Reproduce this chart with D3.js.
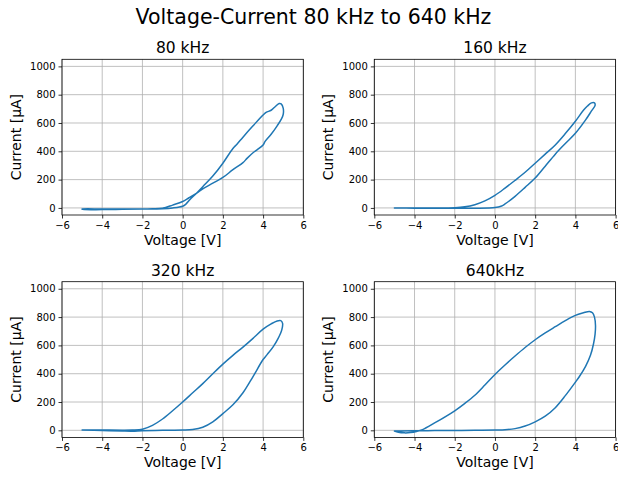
<!DOCTYPE html>
<html lang="en">
    <head>
        <meta charset="UTF-8">
        <title>Voltage-Current 80 kHz to 640 kHz</title>
        <style>
        body {
            margin: 0;
            background: #fff;
        }

        text {
            font-family: "DejaVu Sans", sans-serif;
            fill: #000;
        }

        .grid line {
            stroke: #b0b0b0;
            stroke-width: 0.8px;
        }

        .trace {
            fill: none;
            stroke: #1f77b4;
            stroke-width: 1.5px;
            stroke-linejoin: round;
        }
        </style>
    </head>
    <body>
        <svg></svg>
        <script src="https://d3js.org/d3.v7.min.js"></script>
        <script>
    // Measured V-I loops (voltage in V, current in µA), one closed sweep each
    const v80 = [-5, -4, -3, -2, -1, -0.5, 0, 0.15, 0.4, 0.7, 1, 1.5, 2, 2.5, 2.7, 3, 3.5, 4, 4.15, 4.4, 4.6, 4.8, 4.9, 5.0, 5.0, 4.9, 4.7, 4.4, 4.1, 4.0, 3.7, 3.5, 3.2, 3, 2.5, 2, 1.5, 1, 0.7, 0.3, 0, -0.5, -1, -1.5, -2, -3, -4, -5];
    const i80 = [-10, -12, -10, -8, -5, 0, 12, 25, 65, 105, 150, 225, 316, 420, 450, 500, 580, 656, 675, 690, 715, 738, 735, 705, 660, 625, 580, 520, 470, 445, 410, 390, 350, 320, 270, 215, 175, 135, 105, 70, 45, 20, -2, -6, -8, -8, -8, -8];

    const v160 = [-5, -4, -3, -2, -1, 0, 0.3, 0.5, 1, 1.5, 2, 2.5, 3, 3.5, 4, 4.5, 4.8, 4.98, 4.95, 4.8, 4.6, 4.4, 4, 3.5, 3, 2.5, 2, 1.5, 1, 0.5, 0, -0.5, -1, -1.5, -2, -3, -4, -5];
    const i160 = [0, -2, -3, -3, -2, 3, 12, 28, 82, 145, 211, 295, 380, 455, 527, 620, 685, 725, 742, 742, 720, 690, 612, 525, 445, 380, 316, 252, 195, 140, 89, 50, 23, 8, 2, 0, 0, 0];

    const v320 = [-5, -4, -3, -2.5, -2, -1.5, -1, -0.5, 0, 0.5, 1, 1.5, 2, 2.5, 3, 3.5, 4, 4.4, 4.7, 4.88, 4.97, 4.93, 4.75, 4.5, 4.2, 4, 3.5, 3, 2.5, 2, 1.5, 1, 0.5, 0, -1, -2, -2.5, -3, -4, -5];
    const i320 = [2, 2, 1, 2, 8, 35, 80, 138, 200, 265, 330, 400, 468, 530, 588, 650, 715, 752, 773, 775, 755, 710, 650, 590, 535, 500, 380, 265, 180, 118, 60, 22, 6, 2, 0, -3, -6, -5, -1, 2];

    const v640 = [-5, -4.8, -4.5, -4.2, -3.9, -3.6, -3, -2, -1.5, -1, -0.5, 0, 0.5, 1, 1.5, 2, 2.5, 3, 3.5, 4, 4.4, 4.7, 4.85, 4.95, 5.0, 4.98, 4.9, 4.75, 4.5, 4.2, 4, 3.5, 3, 2.5, 2, 1.5, 1, 0.5, 0, -1, -2, -3, -4, -4.7, -5];
    const i640 = [-5, -14, -18, -16, -8, 5, 52, 138, 190, 248, 320, 395, 462, 525, 585, 640, 688, 732, 775, 812, 830, 840, 830, 800, 740, 680, 610, 530, 450, 380, 340, 245, 160, 100, 60, 30, 12, 4, 2, 0, -1, -2, -3, -4, -5];

    const titles = ["80 kHz", "160 kHz", "320 kHz", "640kHz"];
    const xTicks = [-6, -4, -2, 0, 2, 4, 6];
    const yTicks = [0, 200, 400, 600, 800, 1000];

    const width = 618, height = 478;
    const svg = d3.select("svg")
        .attr("width", width)
        .attr("height", height);

    // 2x2 grid of axes boxes
    const boxW = 241.3, boxH = 155.7;
    const lefts = [62, 374.3], tops = [59.3, 281.7];

    const panels = [
        { v: v80, i: i80 },
        { v: v160, i: i160 },
        { v: v320, i: i320 },
        { v: v640, i: i640 }
    ];

    svg.append("text")
        .attr("x", 313.5)
        .attr("y", 24)
        .attr("text-anchor", "middle")
        .style("font-size", "20.5px")
        .text("Voltage-Current 80 kHz to 640 kHz");

    const fmt = d => d < 0 ? "\u2212" + Math.abs(d) : String(d);

    panels.forEach((p, k) => {
        const x0 = lefts[k % 2], y0 = tops[Math.floor(k / 2)];
        const g = svg.append("g").attr("transform", `translate(${x0},${y0})`);

        const x = d3.scaleLinear().domain([-6, 6]).range([0, boxW]);
        const y = d3.scaleLinear().domain([-50, 1050]).range([boxH, 0]);

        // grid lines
        const grid = g.append("g").attr("class", "grid");
        grid.selectAll(".gx").data(xTicks).enter().append("line")
            .attr("x1", d => x(d)).attr("x2", d => x(d))
            .attr("y1", 0).attr("y2", boxH);
        grid.selectAll(".gy").data(yTicks).enter().append("line")
            .attr("x1", 0).attr("x2", boxW)
            .attr("y1", d => y(d)).attr("y2", d => y(d));

        g.append("clipPath").attr("id", "clip" + k)
            .append("rect").attr("width", boxW).attr("height", boxH);

        const line = d3.line()
            .x(d => x(d[0]))
            .y(d => y(d[1]))
            .curve(d3.curveCatmullRomClosed.alpha(0.5));

        g.append("path")
            .datum(d3.zip(p.v, p.i))
            .attr("class", "trace")
            .attr("clip-path", `url(#clip${k})`)
            .attr("d", line);

        // axes
        const xAxis = d3.axisBottom(x).tickValues(xTicks).tickFormat(fmt).tickSize(3.5).tickPadding(3);
        const yAxis = d3.axisLeft(y).tickValues(yTicks).tickFormat(fmt).tickSize(3.5).tickPadding(3);

        const gx = g.append("g").attr("transform", `translate(0,${boxH})`).call(xAxis);
        const gy = g.append("g").call(yAxis);
        [gx, gy].forEach(a => {
            a.select(".domain").remove();
            a.selectAll("line").attr("stroke", "#000").attr("stroke-width", 0.8);
            a.selectAll("text").style("font-size", "10px").attr("fill", "#000")
                .style("font-family", "'DejaVu Sans', sans-serif");
        });

        // frame
        g.append("rect")
            .attr("width", boxW).attr("height", boxH)
            .attr("fill", "none").attr("stroke", "#000").attr("stroke-width", 0.8);

        g.append("text")
            .attr("x", boxW / 2).attr("y", -6)
            .attr("text-anchor", "middle")
            .style("font-size", "15.5px")
            .text(titles[k]);

        g.append("text")
            .attr("x", boxW / 2).attr("y", boxH + 30)
            .attr("text-anchor", "middle")
            .style("font-size", "14px")
            .text("Voltage [V]");

        g.append("text")
            .attr("transform", `translate(-41,${boxH / 2}) rotate(-90)`)
            .attr("text-anchor", "middle")
            .style("font-size", "14px")
            .text("Current [\u00b5A]");
    });
        </script>
    </body>
</html>
